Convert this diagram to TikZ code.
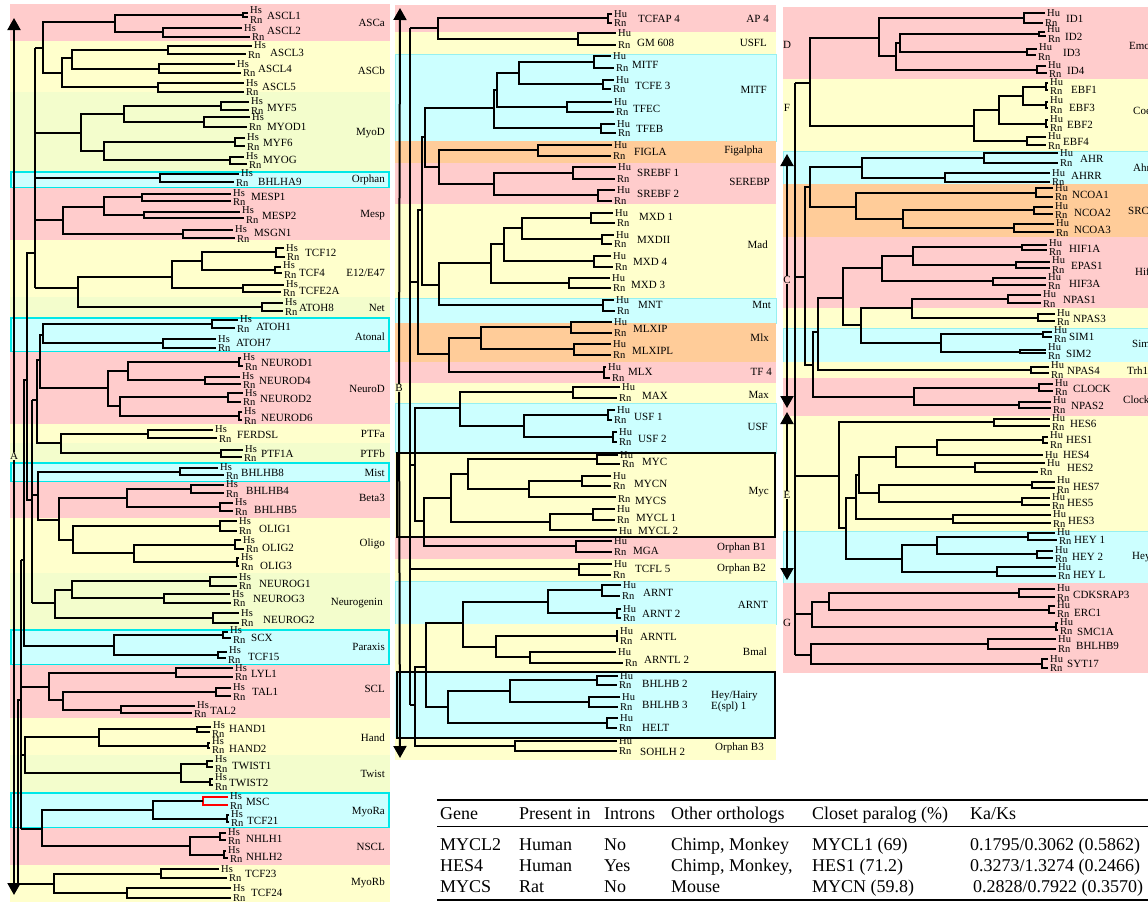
\documentclass[tikz,border=0pt]{standalone}
\usepackage{fontspec}
\setmainfont{Liberation Serif}
\usetikzlibrary{arrows.meta}
\definecolor{bpink}{RGB}{255,204,204}
\definecolor{byel}{RGB}{255,255,204}
\definecolor{bgrn}{RGB}{243,253,204}
\definecolor{bcyan}{RGB}{204,255,255}
\definecolor{bora}{RGB}{255,204,153}
\definecolor{cyanb}{RGB}{0,232,232}
\definecolor{cyanl}{RGB}{150,240,240}
\newcounter{lf}
\newcommand\spA{Hs}
\newcommand\pr[8]{%
  \stepcounter{lf}%
  \draw[tl] (#4,#2) -- (#1,#2) -- (#1,#3) -- (#5,#3);
  \pgfmathsetmacro\ya{min(#2,(#2+#3)/2-4.6)}%
  \pgfmathsetmacro\yb{max(#3,(#2+#3)/2+4.6)}%
  \node[sp] (s\thelf) at (#4+2,\ya) {\spA};
  \node[sp] (r\thelf) at (#5+2,\yb) {Rn};
  \node[gn] (g\thelf) at (#7,#8) {#6};
}
\newcommand\nd[5]{\draw[tl] (#4,#2) -- (#1,#2) -- (#1,#3) -- (#5,#3);}
\begin{document}
\begin{tikzpicture}[x=1pt,y=-1pt,
  tl/.style={line width=2.2pt},
  arr/.style={line width=2pt,-{Triangle[width=13pt,length=12pt]}},
  sp/.style={anchor=west,inner sep=0pt,font=\fontsize{10.5}{10.5}\selectfont},
  gn/.style={anchor=west,inner sep=0pt,font=\fontsize{11}{11}\selectfont},
  famr/.style={anchor=east,inner sep=0pt,font=\fontsize{11}{11}\selectfont},
  faml/.style={anchor=west,inner sep=0pt,font=\fontsize{11}{11}\selectfont},
  lett/.style={inner sep=0pt,font=\fontsize{11}{11}\selectfont},
  tb/.style={anchor=base west,inner sep=0pt,font=\fontsize{18}{18}\selectfont},
  cbox/.style={draw=cyanb,line width=2pt,fill=bcyan},
  lbox/.style={draw=cyanl,line width=0.8pt,fill=bcyan},
]
\useasboundingbox (0,0) rectangle (1148,902);
\clip (0,0) rectangle (1148,902);
\fill[white] (0,0) rectangle (1148,902);
% ---------------- column A bands
\fill[bpink] (10,4) rectangle (390,41);
\fill[byel] (10,41) rectangle (390,92);
\fill[bgrn] (10,92) rectangle (390,172);
\filldraw[cbox] (11,172) rectangle (389,188);
\fill[bpink] (10,188) rectangle (390,240);
\fill[byel] (10,240) rectangle (390,297);
\fill[bgrn] (10,297) rectangle (390,318);
\filldraw[cbox] (11,318) rectangle (389,352);
\fill[bpink] (10,352) rectangle (390,424);
\fill[byel] (10,424) rectangle (390,443);
\fill[bgrn] (10,443) rectangle (390,463);
\filldraw[cbox] (11,463) rectangle (389,482);
\fill[bpink] (10,482) rectangle (390,518);
\fill[byel] (10,518) rectangle (390,573);
\fill[bgrn] (10,573) rectangle (390,630);
\filldraw[cbox] (11,630) rectangle (389,665);
\fill[bpink] (10,665) rectangle (390,718);
\fill[byel] (10,718) rectangle (390,755);
\fill[bgrn] (10,755) rectangle (390,793);
\filldraw[cbox] (11,793) rectangle (389,828);
\fill[bpink] (10,828) rectangle (390,865);
\fill[byel] (10,865) rectangle (390,902);
% ---------------- column B bands
\fill[bpink] (395,5) rectangle (776,32);
\fill[byel] (395,32) rectangle (776,54);
\filldraw[lbox] (395,54) rectangle (776,141);
\fill[bora] (395,141) rectangle (776,163);
\fill[bpink] (395,163) rectangle (776,204);
\fill[byel] (395,204) rectangle (776,298);
\filldraw[lbox] (395,298) rectangle (776,323);
\fill[bora] (395,323) rectangle (776,362);
\fill[bpink] (395,362) rectangle (776,383);
\fill[byel] (395,383) rectangle (776,403);
\filldraw[lbox] (395,403) rectangle (776,453);
\fill[byel] (395,453) rectangle (776,537);
\fill[bpink] (395,537) rectangle (776,559);
\fill[byel] (395,559) rectangle (776,581);
\filldraw[lbox] (395,581) rectangle (776,624);
\fill[byel] (395,624) rectangle (776,672);
\fill[bcyan] (395,672) rectangle (776,738);
\fill[byel] (395,738) rectangle (776,760);
\draw[line width=2pt] (397,453) rectangle (775,537);
\draw[line width=2pt] (397,672) rectangle (775,738);
% ---------------- column C bands
\fill[bpink] (783,7) rectangle (1148,79);
\fill[byel] (783,79) rectangle (1148,151);
\filldraw[lbox] (783,151) rectangle (1150,184);
\fill[bora] (783,184) rectangle (1148,237);
\fill[bpink] (783,237) rectangle (1148,308);
\fill[byel] (783,308) rectangle (1148,328);
\filldraw[lbox] (783,328) rectangle (1150,362);
\fill[byel] (783,362) rectangle (1148,378);
\fill[bpink] (783,378) rectangle (1148,416);
\fill[byel] (783,416) rectangle (1148,531);
\filldraw[lbox] (783,531) rectangle (1150,583);
\fill[bpink] (783,583) rectangle (1148,673);
% ---------------- family labels
\node[famr] (fa1) at (385,23) {ASCa};
\node[famr] (fa2) at (385,71) {ASCb};
\node[famr] (fa3) at (385,133) {MyoD};
\node[famr] (fa4) at (385,180) {Orphan};
\node[famr] (fa5) at (385,215) {Mesp};
\node[famr] (fa6) at (385,273) {E12/E47};
\node[famr] (fa7) at (385,308) {Net};
\node[famr] (fa8) at (385,337) {Atonal};
\node[famr] (fa9) at (385,389) {NeuroD};
\node[famr] (fa10) at (385,434) {PTFa};
\node[famr] (fa11) at (385,454) {PTFb};
\node[famr] (fa12) at (385,473) {Mist};
\node[famr] (fa13) at (385,498) {Beta3};
\node[famr] (fa14) at (385,544) {Oligo};
\node[famr] (fa15) at (383,603) {Neurogenin};
\node[famr] (fa16) at (385,647) {Paraxis};
\node[famr] (fa17) at (385,689) {SCL};
\node[famr] (fa18) at (385,738) {Hand};
\node[famr] (fa19) at (385,774) {Twist};
\node[famr] (fa20) at (385,812) {MyoRa};
\node[famr] (fa21) at (385,847) {NSCL};
\node[famr] (fa22) at (385,883) {MyoRb};
\node[famr] (fb1) at (769,19) {AP 4};
\node[famr] (fb2) at (767,43) {USFL};
\node[famr] (fb3) at (767,90) {MITF};
\node[famr] (fb4) at (763,151) {Figalpha};
\node[famr] (fb5) at (770,182) {SEREBP};
\node[famr] (fb6) at (768,245) {Mad};
\node[famr] (fb7) at (771,305) {Mnt};
\node[famr] (fb8) at (769,338) {Mlx};
\node[famr] (fb9) at (772,372) {TF 4};
\node[famr] (fb10) at (769,395) {Max};
\node[famr] (fb11) at (768,427) {USF};
\node[famr] (fb12) at (769,492) {Myc};
\node[famr] (fb13) at (766,548) {Orphan B1};
\node[famr] (fb14) at (766,569) {Orphan B2};
\node[famr] (fb15) at (768,605) {ARNT};
\node[famr] (fb16) at (767,652) {Bmal};
\node[faml,align=left] (fb17) at (711,702) {Hey/Hairy\\E(spl) 1};
\node[famr] (fb18) at (764,748) {Orphan B3};
\node[faml] (fc1) at (1129,46) {Emc};
\node[faml] (fc2) at (1133,111) {Coe};
\node[faml] (fc3) at (1133,168) {Ahr};
\node[faml] (fc4) at (1128,211) {SRC};
\node[faml] (fc5) at (1135,272) {Hif};
\node[faml] (fc6) at (1132,344) {Sim};
\node[faml] (fc7) at (1127,371) {Trh1};
\node[faml] (fc8) at (1123,400) {Clock};
\node[faml] (fc9) at (1132,557) {Hey};
% ---------------- arrows and letters
\node[lett] (lA) at (14,456) {A};
\coordinate (At) at (14,18); \coordinate (Ab) at (14,895);
\draw[arr] (lA.north) -- (At);
\draw[arr] (lA.south) -- (Ab);
\node[lett] (lB) at (399,388) {B};
\coordinate (Bt) at (400,8); \coordinate (Bb) at (400,758);
\draw[arr] (lB.north) -- (Bt);
\draw[arr] (lB.south) -- (Bb);
\node[lett] (lC) at (787,280) {C};
\coordinate (Ct) at (787,154); \coordinate (Cb) at (787,408);
\draw[arr] (lC.north) -- (Ct);
\draw[arr] (lC.south) -- (Cb);
\node[lett] (lE) at (787,495) {E};
\coordinate (Et) at (787,412); \coordinate (Eb) at (787,580);
\draw[arr] (lE.north) -- (Et);
\draw[arr] (lE.south) -- (Eb);
\node[lett] (lD) at (787,45) {D};
\node[lett] (lF) at (787,108) {F};
\node[lett] (lG) at (787,623) {G};
% ---------------- column A tree
\pr{243}{13}{17}{248}{248}{ASCL1}{267}{16}
\pr{163}{28}{37}{242}{250}{ASCL2}{267}{31}
\pr{168}{46}{54}{252}{246}{ASCL3}{270}{53}
\pr{159}{64}{73}{235}{241}{ASCL4}{258}{69}
\pr{158}{83}{92}{244}{244}{ASCL5}{262}{87}
\pr{221}{102}{110}{249}{249}{MYF5}{267}{108}
\pr{204}{117}{127}{250}{247}{MYOD1}{267}{127}
\pr{235}{138}{146}{245}{245}{MYF6}{263}{143}
\pr{230}{157}{164}{244}{247}{MYOG}{263}{160}
\pr{160}{174}{182}{239}{234}{BHLHA9}{258}{182}
\pr{142}{194}{201}{231}{231}{MESP1}{251}{197}
\pr{144}{212}{218}{240}{244}{MESP2}{262}{216}
\pr{183}{230}{238}{233}{235}{MSGN1}{254}{233}
\pr{276}{248}{257}{284}{285}{TCF12}{305}{253}
\pr{275}{267}{273}{281}{282}{TCF4}{299}{273}
\pr{243}{285}{292}{284}{281}{TCFE2A}{299}{291}
\pr{262}{303}{311}{283}{283}{ATOH8}{299}{308}
\pr{212}{320}{328}{238}{235}{ATOH1}{256}{327}
\pr{163}{339}{348}{216}{216}{ATOH7}{236}{343}
\pr{239}{358}{366}{241}{243}{NEUROD1}{261}{363}
\pr{205}{377}{384}{240}{241}{NEUROD4}{259}{381}
\pr{228}{393}{402}{243}{241}{NEUROD2}{260}{399}
\pr{239}{412}{420}{242}{242}{NEUROD6}{261}{418}
\pr{148}{430}{438}{213}{217}{FERDSL}{237}{435}
\pr{221}{450}{457}{243}{242}{PTF1A}{261}{454}
\pr{180}{468}{475}{218}{224}{BHLHB8}{241}{473}
\pr{191}{485}{493}{224}{224}{BHLHB4}{246}{491}
\pr{220}{503}{511}{233}{233}{BHLHB5}{254}{510}
\pr{220}{521}{531}{237}{237}{OLIG1}{259}{529}
\pr{235}{540}{549}{241}{244}{OLIG2}{262}{548}
\pr{237}{558}{566}{239}{239}{OLIG3}{260}{566}
\pr{210}{577}{586}{237}{237}{NEUROG1}{259}{584}
\pr{164}{594}{603}{230}{231}{NEUROG3}{253}{599}
\pr{213}{613}{623}{239}{239}{NEUROG2}{263}{620}
\pr{223}{632}{638}{228}{231}{SCX}{251}{638}
\pr{218}{652}{658}{227}{226}{TCF15}{248}{657}
\pr{176}{668}{677}{233}{233}{LYL1}{251}{674}
\pr{216}{688}{696}{231}{231}{TAL1}{252}{692}
\pr{121}{706}{713}{195}{192}{TAL2}{210}{711}
\pr{197}{727}{732}{211}{210}{HAND1}{229}{729}
\pr{208}{743}{748}{210}{210}{HAND2}{229}{749}
\pr{207}{761}{767}{213}{213}{TWIST1}{232}{766}
\pr{210}{779}{785}{213}{213}{TWIST2}{229}{783}
\begin{scope}[tl/.append style={red}]
\pr{203}{797}{805}{228}{228}{MSC}{246}{802}
\end{scope}
\pr{227}{815}{822}{229}{229}{TCF21}{247}{821}
\pr{220}{833}{840}{226}{226}{NHLH1}{246}{839}
\pr{224}{851}{858}{226}{228}{NHLH2}{246}{857}
\pr{161}{869}{878}{219}{227}{TCF23}{245}{874}
\pr{127}{888}{898}{231}{231}{TCF24}{251}{893}
\nd{115}{15}{32}{243}{163}
\nd{72}{50}{69}{168}{159}
\nd{62}{58}{87}{72}{158}
\nd{43}{22}{73}{115}{62}
\nd{124}{106}{122}{221}{204}
\nd{104}{142}{160}{235}{230}
\nd{81}{114}{151}{124}{104}
\nd{104}{197}{215}{142}{144}
\nd{63}{207}{234}{104}{183}
\nd{202}{252}{270}{276}{275}
\nd{172}{261}{288}{202}{243}
\nd{78}{277}{307}{172}{262}
\draw[tl] (35,48) -- (35,288);
\draw[tl] (35,48) -- (43,48);
\draw[tl] (35,133) -- (81,133);
\draw[tl] (35,178) -- (160,178);
\draw[tl] (35,220) -- (63,220);
\draw[tl] (35,288) -- (78,288);
\nd{43}{324}{343}{212}{163}
\nd{128}{362}{380}{239}{205}
\nd{120}{397}{416}{228}{239}
\nd{108}{371}{406}{128}{120}
\nd{40}{335}{388}{43}{108}
\nd{61}{434}{453}{148}{221}
\nd{37}{360}{443}{40}{61}
\nd{127}{489}{507}{191}{220}
\nd{134}{545}{562}{235}{237}
\nd{73}{526}{553}{220}{134}
\nd{59}{498}{540}{127}{73}
\nd{38}{472}{520}{180}{59}
\nd{72}{581}{598}{210}{164}
\nd{55}{590}{618}{72}{213}
\draw[tl] (32,400) -- (32,603);
\draw[tl] (32,400) -- (37,400);
\draw[tl] (32,495) -- (38,495);
\draw[tl] (32,603) -- (55,603);
\nd{27}{253}{500}{35}{32}
\nd{114}{635}{655}{223}{218}
\nd{24}{380}{646}{27}{114}
\nd{63}{692}{710}{216}{121}
\nd{49}{673}{700}{176}{63}
\nd{99}{729}{746}{197}{208}
\nd{181}{764}{782}{207}{210}
\nd{25}{737}{773}{99}{181}
\nd{153}{801}{819}{203}{227}
\nd{190}{837}{855}{220}{224}
\nd{42}{810}{846}{153}{190}
\draw[tl] (21,560) -- (21,829);
\draw[tl] (21,560) -- (24,560);
\draw[tl] (21,687) -- (49,687);
\draw[tl] (21,755) -- (25,755);
\draw[tl] (21,829) -- (42,829);
\nd{54}{874}{893}{161}{127}
\nd{18}{700}{884}{21}{54}
% ---------------- column B tree
\renewcommand\spA{Hu}
\pr{608}{14}{23}{612}{612}{TCFAP 4}{638}{19}
\pr{578}{33}{45}{616}{616}{GM 608}{637}{43}
\pr{594}{56}{68}{611}{614}{MITF}{632}{65}
\pr{603}{80}{89}{614}{611}{TCFE 3}{635}{86}
\pr{567}{102}{112}{612}{614}{TFEC}{633}{109}
\pr{601}{124}{133}{615}{616}{TFEB}{636}{129}
\pr{538}{145}{156}{612}{611}{FIGLA}{634}{152}
\pr{573}{167}{179}{616}{615}{SREBF 1}{637}{173}
\pr{598}{190}{201}{615}{612}{SREBF 2}{637}{194}
\pr{591}{213}{223}{613}{615}{MXD 1}{639}{217}
\pr{602}{235}{244}{614}{612}{MXDII}{637}{240}
\pr{594}{256}{267}{611}{613}{MXD 4}{633}{262}
\pr{569}{278}{288}{610}{611}{MXD 3}{631}{285}
\pr{603}{300}{311}{614}{615}{MNT}{638}{305}
\pr{571}{322}{333}{612}{612}{MLXIP}{633}{329}
\pr{574}{344}{355}{611}{611}{MLXIPL}{632}{351}
\pr{604}{367}{378}{606}{610}{MLX}{628}{372}
\pr{573}{387}{398}{620}{617}{MAX}{642}{396}
\pr{608}{410}{420}{615}{612}{USF 1}{634}{417}
\pr{613}{432}{442}{617}{617}{USF 2}{638}{439}
\pr{597}{455}{464}{618}{620}{MYC}{642}{462}
\pr{582}{476}{486}{611}{611}{MYCN}{634}{484}
\node[sp] (mycsr) at (618,499) {Rn};
\node[gn] (mycsg) at (635,501) {MYCS};
\pr{593}{509}{520}{615}{615}{MYCL 1}{636}{518}
\node[sp] (mycl2h) at (619,531) {Hu};
\node[gn] (mycl2g) at (638,531) {MYCL 2};
\pr{576}{541}{552}{612}{612}{MGA}{633}{551}
\pr{579}{564}{575}{612}{611}{TCFL 5}{635}{569}
\pr{602}{585}{596}{621}{620}{ARNT}{643}{593}
\pr{617}{609}{618}{621}{621}{ARNT 2}{642}{614}
\pr{617}{631}{641}{618}{618}{ARNTL}{640}{637}
\pr{530}{652}{663}{616}{623}{ARNTL 2}{644}{660}
\pr{597}{676}{685}{618}{617}{BHLHB 2}{642}{684}
\pr{589}{697}{707}{620}{618}{BHLHB 3}{642}{705}
\pr{607}{718}{728}{618}{617}{HELT}{642}{728}
\pr{515}{741}{751}{617}{617}{SOHLH 2}{640}{752}
\nd{438}{18}{39}{608}{578}
\nd{519}{62}{84}{594}{603}
\nd{497}{73}{107}{519}{567}
\nd{494}{90}{128}{497}{601}
\nd{494}{173}{195}{573}{598}
\nd{439}{150}{184}{538}{494}
\nd{425}{108}{167}{494}{439}
\nd{522}{218}{239}{591}{602}
\nd{504}{228}{261}{522}{594}
\nd{491}{244}{283}{504}{569}
\nd{439}{263}{305}{491}{603}
\nd{422}{137}{285}{425}{439}
\nd{481}{327}{349}{571}{574}
\nd{449}{338}{372}{481}{604}
\nd{418}{210}{354}{422}{449}
\nd{524}{415}{437}{608}{613}
\nd{460}{392}{426}{573}{524}
\nd{529}{481}{497}{582}{616}
\nd{468}{459}{489}{597}{529}
\nd{550}{514}{530}{593}{617}
\nd{451}{474}{522}{468}{550}
\nd{424}{498}{546}{451}{576}
\nd{415}{408}{521}{460}{424}
\nd{548}{590}{613}{602}{617}
\nd{496}{636}{657}{617}{530}
\nd{463}{602}{647}{548}{496}
\nd{510}{680}{702}{597}{589}
\nd{448}{691}{723}{510}{607}
\nd{426}{623}{707}{463}{448}
\nd{415}{667}{746}{426}{515}
\draw[tl] (410,28) -- (410,705);
\draw[tl] (410,28) -- (438,28);
\draw[tl] (410,282) -- (418,282);
\draw[tl] (410,465) -- (415,465);
\draw[tl] (410,569) -- (579,569);
\draw[tl] (410,705) -- (415,705);
% ---------------- column C tree
\pr{1024}{13}{23}{1045}{1043}{ID1}{1066}{19}
\pr{1039}{32}{36}{1045}{1046}{ID2}{1065}{37}
\pr{1027}{49}{55}{1037}{1036}{ID3}{1063}{53}
\pr{1037}{66}{73}{1046}{1047}{ID4}{1067}{71}
\pr{1046}{83}{90}{1048}{1048}{EBF1}{1071}{90}
\pr{1046}{102}{108}{1048}{1048}{EBF3}{1069}{108}
\pr{1046}{120}{127}{1048}{1048}{EBF2}{1067}{125}
\pr{1027}{137}{145}{1046}{1046}{EBF4}{1063}{142}
\pr{984}{153}{163}{1058}{1058}{AHR}{1080}{159}
\pr{945}{173}{182}{1050}{1050}{AHRR}{1071}{176}
\pr{1036}{188}{197}{1053}{1053}{NCOA1}{1072}{195}
\pr{1034}{207}{214}{1053}{1053}{NCOA2}{1074}{213}
\pr{1014}{224}{232}{1054}{1054}{NCOA3}{1074}{230}
\pr{1022}{245}{250}{1047}{1047}{HIF1A}{1069}{249}
\pr{1016}{262}{268}{1050}{1050}{EPAS1}{1071}{266}
\pr{993}{278}{285}{1046}{1046}{HIF3A}{1069}{284}
\pr{1008}{295}{303}{1041}{1041}{NPAS1}{1063}{300}
\pr{1038}{314}{321}{1055}{1055}{NPAS3}{1073}{319}
\pr{1043}{332}{337}{1052}{1052}{SIM1}{1069}{337}
\pr{1020}{350}{353}{1046}{1046}{SIM2}{1066}{354}
\pr{1031}{367}{373}{1049}{1049}{NPAS4}{1067}{371}
\pr{1039}{384}{391}{1053}{1053}{CLOCK}{1073}{389}
\pr{1019}{402}{408}{1051}{1051}{NPAS2}{1071}{406}
\pr{994}{419}{426}{1050}{1050}{HES6}{1070}{424}
\pr{1043}{437}{443}{1048}{1048}{HES1}{1066}{440}
\node[sp] (hes4h) at (1045,455) {Hu};
\node[gn] (hes4g) at (1063,455) {HES4};
\pr{975}{463}{472}{1045}{1038}{HES2}{1067}{468}
\pr{1032}{482}{488}{1055}{1055}{HES7}{1073}{487}
\pr{1022}{498}{505}{1050}{1050}{HES5}{1067}{503}
\pr{953}{515}{523}{1051}{1051}{HES3}{1068}{521}
\pr{1028}{533}{540}{1055}{1057}{HEY 1}{1074}{540}
\pr{1037}{551}{558}{1053}{1053}{HEY 2}{1072}{557}
\pr{997}{567}{576}{1056}{1056}{HEY L}{1073}{575}
\pr{1019}{589}{597}{1055}{1055}{CDKSRAP3}{1073}{595}
\pr{1049}{606}{613}{1055}{1055}{ERC1}{1074}{613}
\pr{1056}{623}{630}{1058}{1058}{SMC1A}{1077}{632}
\pr{988}{639}{649}{1056}{1056}{BHLHB9}{1076}{646}
\pr{1042}{659}{668}{1048}{1048}{SYT17}{1067}{664}
\nd{900}{34}{52}{1039}{1027}
\nd{896}{43}{70}{900}{1037}
\nd{879}{18}{56}{1024}{896}
\nd{1023}{87}{105}{1046}{1046}
\nd{999}{96}{124}{1023}{1046}
\nd{974}{110}{141}{999}{1027}
\nd{810}{38}{126}{879}{974}
\nd{862}{158}{178}{984}{945}
\nd{903}{210}{228}{1034}{1014}
\nd{856}{193}{219}{1036}{903}
\nd{810}{167}{207}{862}{856}
\nd{913}{247}{265}{1022}{1016}
\nd{882}{256}{281}{913}{993}
\nd{912}{299}{318}{1008}{1038}
\nd{941}{334}{352}{1043}{1020}
\nd{861}{308}{343}{912}{941}
\nd{843}{268}{325}{882}{861}
\nd{818}{298}{370}{843}{1031}
\nd{914}{388}{405}{1039}{1019}
\nd{813}{332}{397}{818}{914}
\nd{805}{187}{365}{810}{813}
\nd{937}{440}{455}{1043}{1043}
\nd{896}{447}{467}{937}{975}
\nd{879}{485}{502}{1032}{1022}
\nd{859}{457}{493}{896}{879}
\nd{856}{475}{519}{859}{953}
\nd{937}{537}{554}{1028}{1037}
\nd{902}{545}{572}{937}{997}
\nd{846}{498}{559}{856}{902}
\nd{839}{422}{528}{994}{846}
\nd{829}{593}{610}{1019}{1049}
\nd{812}{602}{627}{829}{1056}
\nd{811}{644}{664}{988}{1042}
\draw[tl] (795,83) -- (795,655);
\draw[tl] (795,83) -- (810,83);
\draw[tl] (795,277) -- (805,277);
\draw[tl] (795,476) -- (839,476);
\draw[tl] (795,614) -- (812,614);
\draw[tl] (795,655) -- (811,655);
% ---------------- table
\draw[line width=1.5pt] (437,800) -- (1148,800);
\draw[line width=0.8pt] (437,826) -- (1148,826);
\draw[line width=1.5pt] (437,900) -- (1148,900);
\node[tb] (t01) at (440,819) {Gene};
\node[tb] (t02) at (519,819) {Present in};
\node[tb] (t03) at (604,819) {Introns};
\node[tb] (t04) at (671,819) {Other orthologs};
\node[tb] (t05) at (812,819) {Closet paralog (\%)};
\node[tb] (t06) at (970,819) {Ka/Ks};
\node[tb] (t11) at (440,850) {MYCL2};
\node[tb] (t12) at (519,850) {Human};
\node[tb] (t13) at (604,850) {No};
\node[tb] (t14) at (671,850) {Chimp, Monkey};
\node[tb] (t15) at (812,850) {MYCL1 (69)};
\node[tb] (t16) at (970,850) {0.1795/0.3062 (0.5862)};
\node[tb] (t21) at (440,871) {HES4};
\node[tb] (t22) at (519,871) {Human};
\node[tb] (t23) at (604,871) {Yes};
\node[tb] (t24) at (671,871) {Chimp, Monkey,};
\node[tb] (t25) at (812,871) {HES1 (71.2)};
\node[tb] (t26) at (970,871) {0.3273/1.3274 (0.2466)};
\node[tb] (t31) at (440,892) {MYCS};
\node[tb] (t32) at (519,892) {Rat};
\node[tb] (t33) at (604,892) {No};
\node[tb] (t34) at (671,892) {Mouse};
\node[tb] (t35) at (812,892) {MYCN (59.8)};
\node[tb] (t36) at (973,892) {0.2828/0.7922 (0.3570)};
\end{tikzpicture}
\end{document}
